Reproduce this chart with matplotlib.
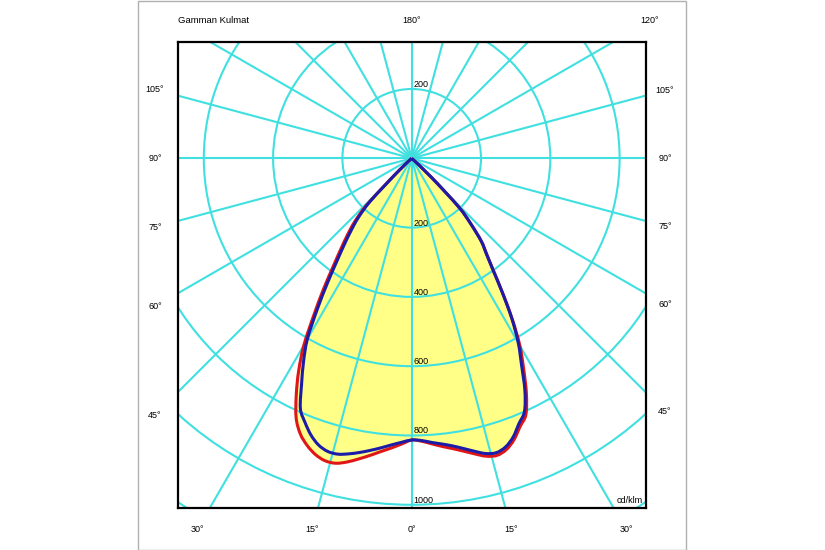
import numpy as np
import matplotlib.pyplot as plt
from matplotlib.patches import Rectangle, Circle, PathPatch
from matplotlib.path import Path

plt.rcParams['font.family'] = ['Liberation Sans', 'DejaVu Sans']

# angles from nadir (deg) and intensities (cd/klm), one list per half-plane
angulos = [0, 2, 4, 6, 8, 10, 12, 14, 16, 18, 20, 22, 24,
           26, 28, 30, 32, 34, 36, 38, 40, 42, 44, 46, 48]

red_esq = [813, 825, 838, 851, 866, 881, 896, 907, 908, 899, 882, 858, 820,
           760, 695, 622, 532, 455, 385, 332, 288, 245, 184, 62, 0]
red_dir = [813, 817, 826, 836, 846, 858, 872, 886, 892, 884, 864, 835, 810,
           755, 688, 624, 548, 470, 402, 352, 313, 256, 196, 80, 0]
blue_esq = [813, 820, 829, 840, 851, 862, 872, 880, 880, 870, 850, 822, 790,
            725, 665, 602, 515, 436, 368, 316, 272, 230, 170, 52, 0]
blue_dir = [813, 815, 822, 829, 838, 850, 864, 878, 884, 876, 856, 826, 800,
            745, 675, 615, 545, 468, 400, 350, 312, 255, 195, 80, 0]

aneis = [200, 400, 600, 800, 1000, 1200]
raios_ang = list(range(0, 360, 15))

rotulos_esq = [0, 15, 30, 45, 60, 75, 90, 105]
rotulos_dir = [15, 30, 45, 60, 75, 90, 105, 120]

ciano = '#40e0e0'
amarelo = '#ffff88'

fig = plt.figure(figsize=(8.25, 5.5), dpi=100)
ax = fig.add_axes([178.3 / 825, 42.3 / 550, 467.4 / 825, 466 / 550])
ax.set_xlim(-673.6, 675.3)
ax.set_ylim(-1008.4, 336.5)
ax.set_xticks([])
ax.set_yticks([])
for sp in ax.spines.values():
    sp.set_linewidth(1.6)
    sp.set_zorder(10)


def curva(esq, dir_):
    a_e = np.radians(angulos[::-1])
    r_e = np.array(esq[::-1])
    a_d = np.radians(angulos[1:])
    r_d = np.array(dir_[1:])
    x = np.concatenate([-r_e * np.sin(a_e), r_d * np.sin(a_d)])
    y = np.concatenate([-r_e * np.cos(a_e), -r_d * np.cos(a_d)])
    return x, y


def caminho(x, y):
    # smooth path through the measured points (Catmull-Rom as Bezier)
    p = np.column_stack([x, y])
    n = len(p)
    verts = [p[0]]
    codes = [Path.MOVETO]
    for i in range(n - 1):
        p0 = p[max(i - 1, 0)]
        p1 = p[i]
        p2 = p[i + 1]
        p3 = p[min(i + 2, n - 1)]
        verts += [p1 + (p2 - p0) / 6, p2 - (p3 - p1) / 6, p2]
        codes += [Path.CURVE4] * 3
    return Path(verts, codes)


path_r = caminho(*curva(red_esq, red_dir))
path_b = caminho(*curva(blue_esq, blue_dir))

ax.add_patch(PathPatch(path_r, facecolor=amarelo, edgecolor='none', zorder=1))
ax.add_patch(PathPatch(path_b, facecolor=amarelo, edgecolor='none', zorder=1))

# grid
for r in aneis:
    ax.add_patch(Circle((0, 0), r, fill=False, edgecolor=ciano, lw=1.5, zorder=2))
for a in raios_ang:
    t = np.radians(a)
    ax.plot([0, 1400 * np.sin(t)], [0, -1400 * np.cos(t)], color=ciano, lw=1.5,
            zorder=2, solid_capstyle='butt')

ax.add_patch(PathPatch(path_r, fill=False, edgecolor='#e01515', lw=2.2,
                       zorder=3, joinstyle='round'))
ax.add_patch(PathPatch(path_b, fill=False, edgecolor='#1c1ca8', lw=2.2,
                       zorder=4, joinstyle='round'))

# ring values
fs = 6.5
ax.text(5, 200, '200', fontsize=fs, ha='left', va='bottom', zorder=5)
for r in aneis[:5]:
    ax.text(5, -r, str(r), fontsize=fs, ha='left', va='bottom', zorder=5)
ax.text(668, -1002, 'cd/klm', fontsize=fs, ha='right', va='bottom', zorder=5)

# angle labels around the box
x_esq, x_dir, y_base, y_topo = -741, 731, -1072.7, 397


def pos_rotulo(a, lado):
    t = np.radians(a)
    dx = lado * np.sin(t)
    dy = -np.cos(t)
    ts = []
    if dx < -1e-9:
        ts.append(x_esq / dx)
    if dx > 1e-9:
        ts.append(x_dir / dx)
    if dy < -1e-9:
        ts.append(y_base / dy)
    if dy > 1e-9:
        ts.append(y_topo / dy)
    k = min(ts)
    return k * dx, k * dy


for a in rotulos_esq:
    x, y = pos_rotulo(a, -1)
    ax.text(x, y, f'{a}°', fontsize=fs, ha='center', va='center', clip_on=False)
for a in rotulos_dir:
    x, y = pos_rotulo(a, 1)
    ax.text(x, y, f'{a}°', fontsize=fs, ha='center', va='center', clip_on=False)
ax.text(0, y_topo, '180°', fontsize=fs, ha='center', va='center', clip_on=False)

fig.text(178.3 / 825, 1 - 20.7 / 550, 'Gamman Kulmat', fontsize=6.8,
         ha='left', va='center')

fig.add_artist(Rectangle((137.5 / 825, 0.5 / 550), 548.5 / 825, 548.5 / 550,
                         transform=fig.transFigure, fill=False,
                         edgecolor='#b0b0b0', lw=1))

fig.savefig('out.png', dpi=100)
